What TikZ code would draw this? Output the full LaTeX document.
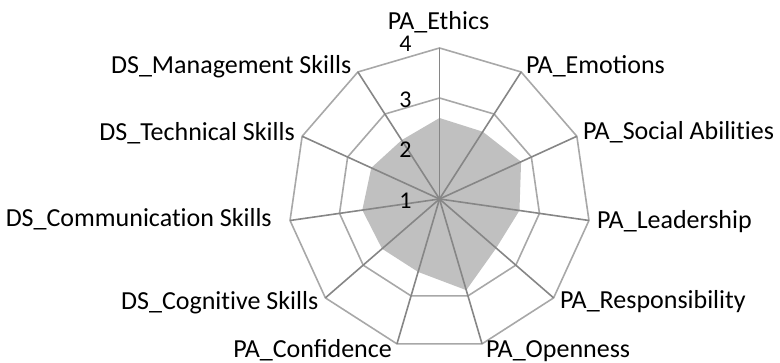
\documentclass[tikz,border=0pt]{standalone}
\usepackage{fontspec}
\setmainfont{Carlito}
\definecolor{ringgray}{RGB}{168,168,168}
\definecolor{spokegray}{RGB}{134,134,134}
\definecolor{areagray}{RGB}{192,192,192}
\tikzset{
  ring/.style={draw=ringgray, line width=1.6pt, line join=miter},
  spoke/.style={draw=spokegray, line width=1.6pt},
  area/.style={fill=areagray},
  lbl/.style={inner sep=0pt, font=\fontsize{26}{30}\selectfont},
  tick/.style={inner sep=0pt, anchor=base, font=\fontsize{24}{28}\selectfont},
}
\newcommand{\nolig}{\kern0pt }
\begin{document}
\begin{tikzpicture}[x=1pt,y=-1pt]
\useasboundingbox (0,0) rectangle (780,363);
\coordinate (c) at (439.5,199);
\foreach \k in {0,...,10}{
  \pgfmathsetmacro\a{90-\k*360/11}
  \coordinate (o\k) at ({439.5+151*cos(\a)},{199-151*sin(\a)});
  \coordinate (t\k) at ({439.5+101*cos(\a)},{199-101*sin(\a)});
  \coordinate (s\k) at ({439.5+50.5*cos(\a)},{199-50.5*sin(\a)});
}
\foreach \k/\r in {0/81,1/80,2/89.7,3/80.8,4/75,5/95,6/76,7/76,8/78,9/75,10/70}{
  \pgfmathsetmacro\a{90-\k*360/11}
  \coordinate (d\k) at ({439.5+\r*cos(\a)},{199-\r*sin(\a)});
}
% grid rings
\draw[ring] (o0) \foreach \k in {1,...,10}{ -- (o\k)} -- cycle;
\draw[ring] (t0) \foreach \k in {1,...,10}{ -- (t\k)} -- cycle;
\draw[ring] (s0) \foreach \k in {1,...,10}{ -- (s\k)} -- cycle;
% data area
\fill[area] (d0) \foreach \k in {1,...,10}{ -- (d\k)} -- cycle;
% spokes
\foreach \k in {0,...,10}{ \draw[spoke] (c) -- (o\k); }
% tick labels
\node[tick] (n4) at (405.5,51.5) {4};
\node[tick] (n3) at (405.5,108) {3};
\node[tick] (n2) at (405.5,157.3) {2};
\node[tick] (n1) at (405.5,208.3) {1};
% category labels
\node[lbl, anchor=base] (l0) at (438.5,30) {PA\_Ethics};
\node[lbl, anchor=base west] (l1) at (526,73.3) {PA\_Emotions};
\node[lbl, anchor=base west] (l2) at (583,139.3) {PA\_Social Abilit\nolig ies};
\node[lbl, anchor=base west] (l3) at (597,228.3) {PA\_Leadership};
\node[lbl, anchor=base west] (l4) at (560,308.3) {PA\_Responsibility};
\node[lbl, anchor=base west] (l5) at (486,357.5) {PA\_Openness};
\node[lbl, anchor=base east] (l6) at (392,357.5) {PA\_Confidence};
\node[lbl, anchor=base east] (l7) at (318.5,310) {DS\_Cognit\nolig ive Skills};
\node[lbl, anchor=base east] (l8) at (272,226.7) {DS\_Communicat\nolig ion Skills};
\node[lbl, anchor=base east] (l9) at (295,140.7) {DS\_Technical Skills};
\node[lbl, anchor=base east] (l10) at (351.5,73.3) {DS\_Management Skills};
\end{tikzpicture}
\end{document}
